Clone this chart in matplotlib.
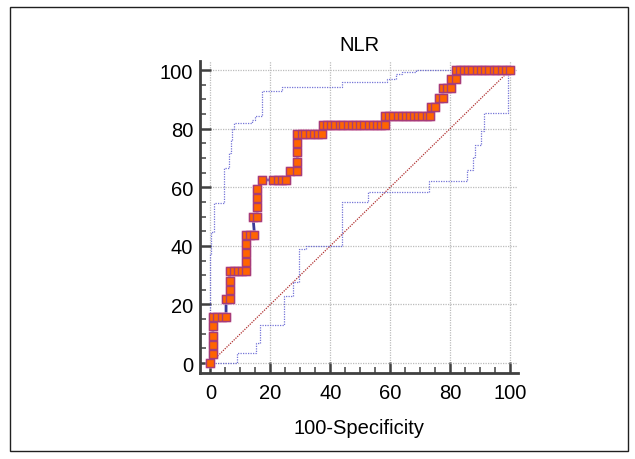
import matplotlib
matplotlib.use('Agg')
import matplotlib.pyplot as plt
from matplotlib.ticker import MultipleLocator
from matplotlib.patches import Rectangle

plt.rcParams['font.family'] = ['Liberation Sans', 'DejaVu Sans']

# ROC curve points (100-Specificity, Sensitivity)
roc_x = [0, 0.8, 0.8, 0.8, 0.8, 0.8, 2.2, 3.7, 5.2, 5.2, 6.4, 6.4, 6.4, 6.4,
         7.8, 9.1, 10.6, 12.0, 12.0, 12.0, 12.0, 12.0, 13.3, 14.7, 14.2, 15.6,
         15.6, 15.6, 15.6, 17.2, 20.9, 22.4, 23.9, 25.3, 26.6, 29.0, 29.0, 29.0,
         29.0, 29.0, 30.4, 31.7, 33.1, 34.5, 35.8, 37.2, 37.5, 38.9, 40.3, 41.7,
         43.1, 44.4, 45.8, 47.2, 48.6, 50.0, 51.4, 52.8, 54.2, 55.6, 56.9, 58.3,
         58.3, 59.7, 61.1, 62.5, 63.9, 65.3, 66.7, 68.1, 69.4, 70.8, 72.2, 73.4,
         73.6, 75.0, 76.2, 77.6, 77.6, 79.0, 80.4, 80.4, 81.9, 81.9, 83.3, 84.7,
         86.1, 87.5, 88.9, 90.3, 91.7, 93.1, 94.7, 95.8, 97.2, 98.6, 100]
roc_y = [0, 3.125, 6.25, 9.375, 12.5, 15.625, 15.625, 15.625, 15.625, 21.875,
         21.875, 25, 28.125, 31.25, 31.25, 31.25, 31.25, 31.25, 34.375, 37.5,
         40.625, 43.75, 43.75, 43.75, 50, 50, 53.125, 56.25, 59.375, 62.5, 62.5,
         62.5, 62.5, 62.5, 65.625, 65.625, 68.75, 71.875, 75, 78.125, 78.125,
         78.125, 78.125, 78.125, 78.125, 78.125, 81.25, 81.25, 81.25, 81.25,
         81.25, 81.25, 81.25, 81.25, 81.25, 81.25, 81.25, 81.25, 81.25, 81.25,
         81.25, 81.25, 84.375, 84.375, 84.375, 84.375, 84.375, 84.375, 84.375,
         84.375, 84.375, 84.375, 84.375, 84.375, 87.5, 87.5, 90.625, 90.625,
         93.75, 93.75, 93.75, 96.875, 96.875, 100, 100, 100, 100, 100, 100, 100,
         100, 100, 100, 100, 100, 100, 100]

# confidence bounds, x where the step happens and the new level
upper_x = [0, 0, 0.3, 1.1, 4.4, 6.1, 6.7, 7.2, 7.8, 13.9, 15.0, 17.2, 23.9,
           43.9, 59.1, 62.0, 64.0, 68.5, 100]
upper_y = [0, 37.2, 44.6, 54.5, 66.5, 71.7, 76.0, 80.0, 81.8, 82.9, 84.4,
           92.7, 94.3, 96.1, 97.1, 98.6, 99.2, 100, 100]
lower_x = [0, 8.9, 15.3, 16.5, 24.4, 27.6, 29.4, 32.0, 44.0, 52.6, 73.0,
           85.6, 87.6, 88.5, 90.2, 91.3, 99.5, 100]
lower_y = [0, 3.4, 6.8, 13.0, 22.8, 27.8, 38.9, 39.8, 55.0, 58.5, 62.3,
           66.0, 70.2, 74.5, 79.3, 85.2, 100, 100]

ticks = [0, 20, 40, 60, 80, 100]

fig = plt.figure(figsize=(6.35, 4.6), dpi=100)
ax = fig.add_axes([200/635, 1 - 374/460, 318/635, 312/460])

# outer frame
fig.patches.append(Rectangle((10/635, 1 - 452/460), 618/635, 444/460,
                             transform=fig.transFigure, fill=False,
                             edgecolor='#202020', linewidth=1))

ax.plot([0, 100], [0, 100], color='#b03030', lw=0.9, ls=(0, (1, 1)), zorder=2)
ax.plot(upper_x, upper_y, drawstyle='steps-post', color='#5c5cd0', lw=0.9,
        ls=(0, (1, 1)), alpha=0.85, zorder=3)
ax.plot(lower_x, lower_y, drawstyle='steps-post', color='#5c5cd0', lw=0.9,
        ls=(0, (1, 1)), alpha=0.85, zorder=3)

ax.plot(roc_x, roc_y, color='#3a3a9a', lw=2, zorder=4)
# soft halo around markers
ax.plot(roc_x, roc_y, ls='none', marker='s', ms=7.5, mfc='#ecb4d4',
        mec='none', alpha=0.8, zorder=5)
ax.plot(roc_x, roc_y, ls='none', marker='s', ms=5.2, mfc='#ff6400',
        mec='#a63c78', mew=1.0, zorder=6)

ax.set_xlim(-3.5, 102.7)
ax.set_ylim(-3.4, 103.1)
ax.set_xticks(ticks)
ax.set_yticks(ticks)
ax.xaxis.set_minor_locator(MultipleLocator(5))
ax.yaxis.set_minor_locator(MultipleLocator(5))
ax.grid(True, which='major', color='#bcbcbc', ls=(0, (1, 1)), lw=0.9)
ax.set_axisbelow(True)

for s in ['top', 'right']:
    ax.spines[s].set_visible(False)
for s in ['left', 'bottom']:
    ax.spines[s].set_color('#404040')
    ax.spines[s].set_linewidth(2)

ax.tick_params(which='major', direction='in', length=8, width=1.8,
               color='#404040', labelsize=14.5)
ax.tick_params(which='minor', direction='in', length=4, width=1.2,
               color='#505050')
ax.tick_params(axis='x', which='major', pad=7.5)
ax.tick_params(axis='y', which='major', pad=5)

ax.set_title('NLR', fontsize=14.5, pad=8)
ax.set_xlabel('100-Specificity', fontsize=14.5, labelpad=11)

fig.savefig('out.png', dpi=100)
